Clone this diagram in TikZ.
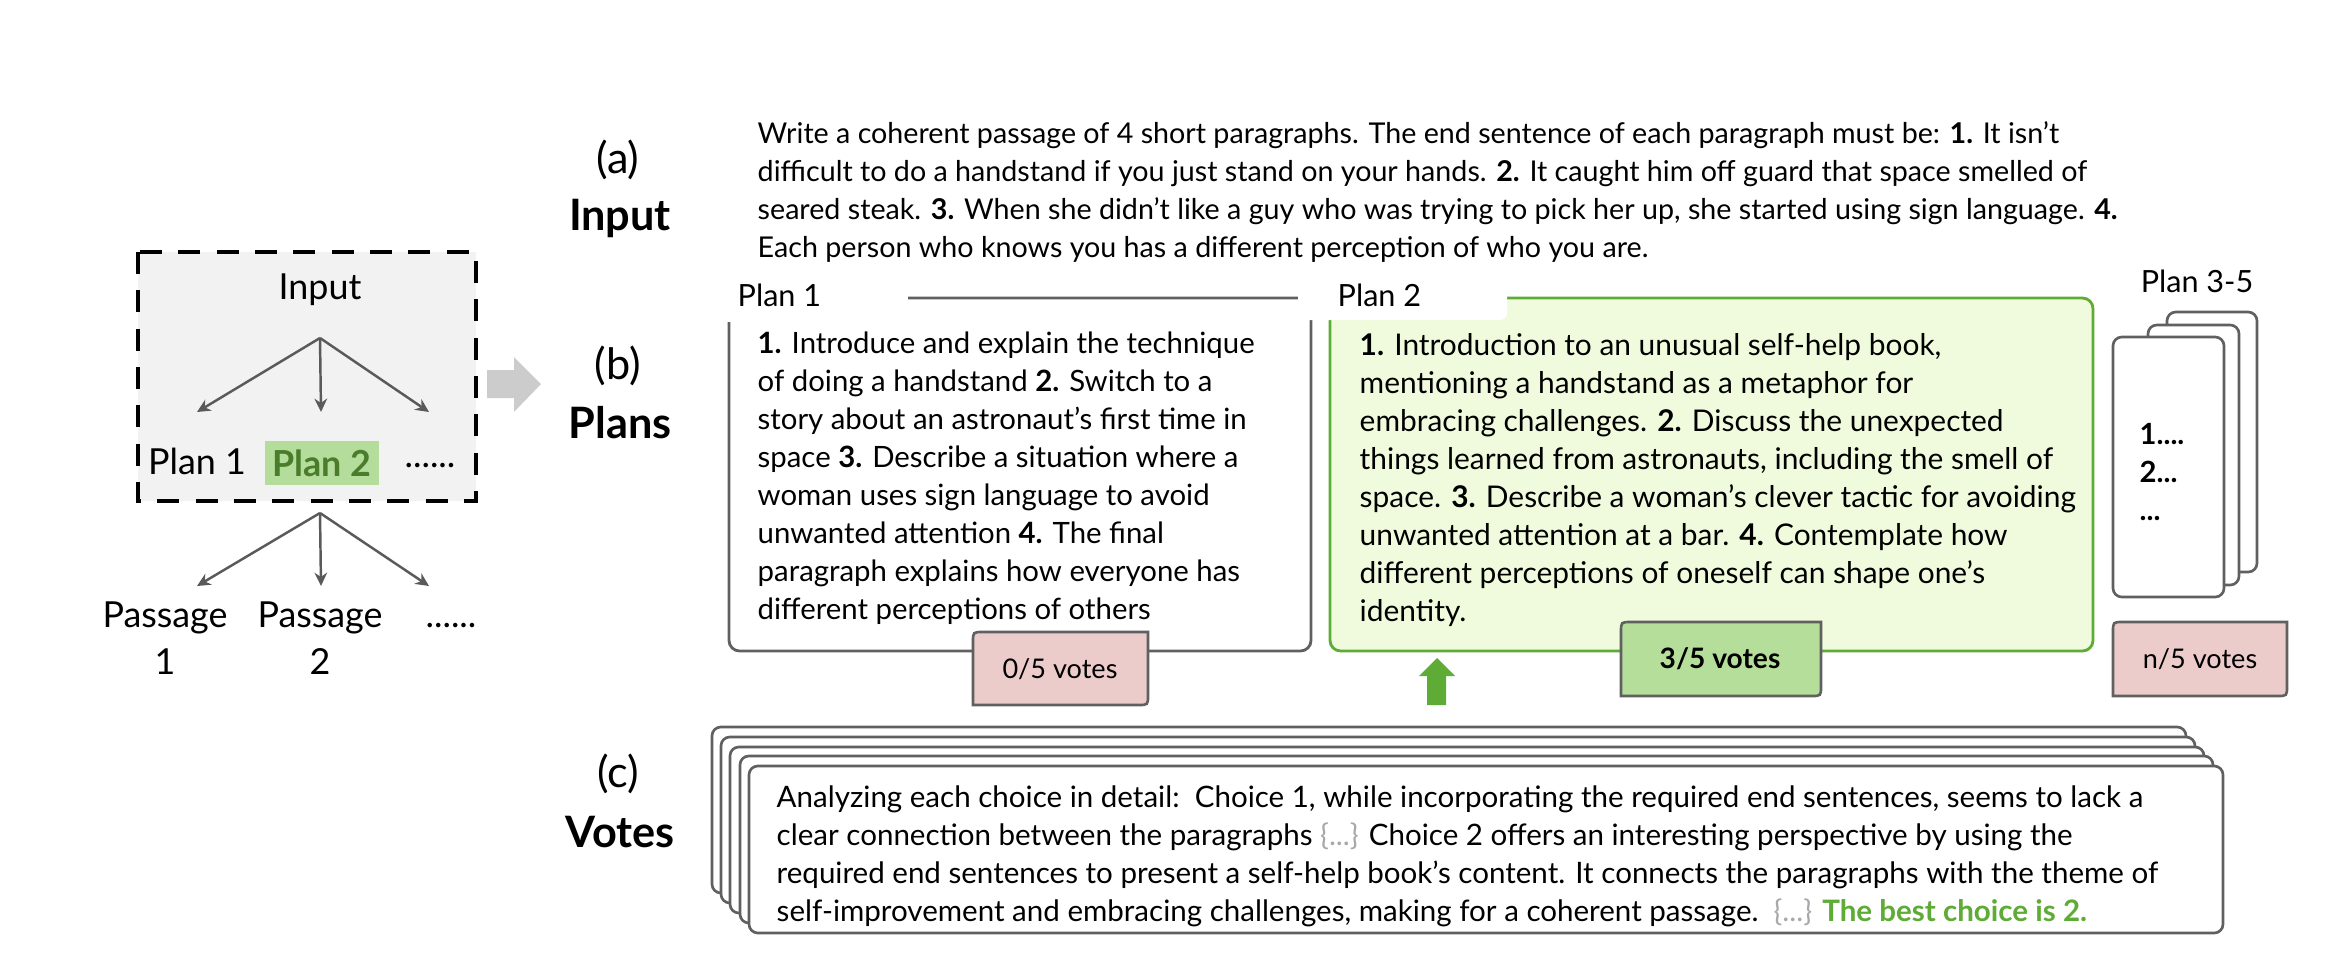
\documentclass[tikz,border=0pt]{standalone}
\usepackage{fontspec}
\setmainfont{Lato}
\usetikzlibrary{arrows.meta,positioning,calc}
\definecolor{boxgray}{HTML}{606060}
\definecolor{arrowgray}{HTML}{5A5A5A}
\definecolor{blockgray}{HTML}{CCCCCC}
\definecolor{boxbg}{HTML}{F2F2F2}
\definecolor{planfill}{HTML}{EFFBDC}
\definecolor{plangreen}{HTML}{5EAB36}
\definecolor{votepink}{HTML}{ECCCCB}
\definecolor{votegreen}{HTML}{B5DE9B}
\definecolor{hlgreen}{HTML}{B4DC9A}
\definecolor{darkgreen}{HTML}{4A7D2B}
\definecolor{dotgray}{HTML}{A8A8A8}

\begin{document}
\begin{tikzpicture}[x=0.01cm,y=-0.01cm,>={Stealth[length=3.8pt,width=3.6pt]},
 txt/.style={font=\fontsize{8}{10.8}\selectfont,align=left,inner sep=0pt,anchor=north west},
 plabel/.style={font=\fontsize{8.7}{10}\selectfont,inner sep=0pt,anchor=west},
 side/.style={font=\fontsize{12.3}{14}\selectfont,inner sep=0pt},
 sidebold/.style={font=\fontsize{12.3}{14}\selectfont\bfseries,inner sep=0pt},
 small/.style={font=\fontsize{10.2}{13.4}\selectfont,inner sep=0pt,align=center},
 planbox/.style={draw=boxgray,line width=0.8pt,rounded corners=3pt},
 page/.style={draw=boxgray,fill=white,line width=0.75pt,rounded corners=2.5pt},
 badge/.style={draw=boxgray,line width=0.75pt},
 fork/.style={->,draw=arrowgray,line width=0.7pt}]
\useasboundingbox (0,0) rectangle (2348,960);
% overview on the left
\draw[black,fill=boxbg,line width=1.1pt,dash pattern=on 6.3pt off 4.6pt] (138,252) rectangle (476,501);
\node[small] (inp) at (320,290) {Input};
\node[small] (lp1) at (197,461) {Plan 1};
\node[small,fill=hlgreen,inner xsep=2pt,minimum height=0.44cm,text=darkgreen,font=\fontsize{10.2}{13.4}\selectfont\bfseries] (lp2) at (322,463) {Plan 2};
\node[small] (ldots) at (430,466) {......};
\coordinate (f1) at (320,338);
\coordinate (f1a) at (197,412);
\coordinate (f1b) at (321,412);
\coordinate (f1c) at (429,412);
\draw[fork] (f1) -- (f1a); \draw[fork] (f1) -- (f1b); \draw[fork] (f1) -- (f1c);
\coordinate (f2) at (320,513);
\coordinate (f2a) at (197,586);
\coordinate (f2b) at (321,586);
\coordinate (f2c) at (429,586);
\draw[fork] (f2) -- (f2a); \draw[fork] (f2) -- (f2b); \draw[fork] (f2) -- (f2c);
\node[small] (ps1) at (165,638) {Passage\\1};
\node[small] (ps2) at (320,638) {Passage\\2};
\node[small] (psdots) at (451,626) {......};
\fill[blockgray] (487,370) -- (514,370) -- (514,357) -- (541,384) -- (514,412) -- (514,398) -- (487,398) -- cycle;
% row labels
\node[side] (capa) at (618,160) {(a)};
\node[sidebold] (namea) at (620,218) {Input};
\node[side] (capb) at (618,366) {(b)};
\node[sidebold] (nameb) at (620,423) {Plans};
\node[side] (capc) at (618,774) {(c)};
\node[sidebold] (namec) at (620,832) {Votes};
% input
\node[txt,font=\fontsize{8.15}{10.8}\selectfont] (intext) at (757,121) {Write a coherent passage of 4 short paragraphs. The end sentence of each paragraph must be: \textbf{1.} It isn't\\
difficult to do a handstand if you just stand on your hands. \textbf{2.} It caught him off guard that space smelled of\\
seared steak. \textbf{3.} When she didn’t like a guy who was trying to pick her up, she started using sign language. \textbf{4.}\\
Each person who knows you has a different perception of who you are.};
% plans
\draw[planbox,fill=white] (729,298) rectangle (1311,651);
\fill[white] (715,262) rectangle (908,322);
\node[plabel] (plan1) at (737,295) {Plan 1};
\node[txt,font=\fontsize{8.35}{10.8}\selectfont] (plan1text) at (757,331) {\textbf{1.} Introduce and explain the technique\\
of doing a handstand \textbf{2.} Switch to a\\
story about an astronaut's first time in\\
space \textbf{3.} Describe a situation where a\\
woman uses sign language to avoid\\
unwanted attention \textbf{4.} The final\\
paragraph explains how everyone has\\
different perceptions of others};
\draw[planbox,draw=plangreen,fill=planfill] (1330,298) rectangle (2093,651);
\fill[white,rounded corners=2pt] (1298,262) rectangle (1507,320);
\node[plabel] (plan2) at (1337,295) {Plan 2};
\node[txt,font=\fontsize{8.5}{10.8}\selectfont] (plan2text) at (1359,333) {\textbf{1.} Introduction to an unusual self-help book,\\
mentioning a handstand as a metaphor for\\
embracing challenges. \textbf{2.} Discuss the unexpected\\
things learned from astronauts, including the smell of\\
space. \textbf{3.} Describe a woman's clever tactic for avoiding\\
unwanted attention at a bar. \textbf{4.} Contemplate how\\
different perceptions of oneself can shape one's\\
identity.};
\node[plabel,anchor=center] (plan3) at (2197,281) {Plan 3-5};
\draw[page] (2167,312) rectangle (2257,572);
\draw[page] (2148,325) rectangle (2239,585);
\draw[page] (2113,337) rectangle (2224,597);
\node[txt,font=\fontsize{8.3}{10.8}\selectfont\bfseries] (plan3text) at (2139,423) {1....\\2...\\...};
% votes per plan
\filldraw[badge,fill=votepink] (973,705) -- (973,642) .. controls (973,632) .. (983,632) -- (1148,632) -- (1148,695) .. controls (1148,705) .. (1138,705) -- cycle;
\node[txt,anchor=center,font=\fontsize{7.7}{10}\selectfont] (vote1) at (1060,669) {0/5 votes};
\filldraw[badge,fill=votegreen] (1621,696) -- (1621,632) .. controls (1621,622) .. (1631,622) -- (1821,622) -- (1821,686) .. controls (1821,696) .. (1811,696) -- cycle;
\node[txt,anchor=center,font=\fontsize{8}{10}\selectfont\bfseries] (vote2) at (1720,659) {3/5 votes};
\filldraw[badge,fill=votepink] (2113,696) -- (2113,632) .. controls (2113,622) .. (2123,622) -- (2287,622) -- (2287,686) .. controls (2287,696) .. (2277,696) -- cycle;
\node[txt,anchor=center,font=\fontsize{7.7}{10}\selectfont] (vote3) at (2200,659) {n/5 votes};
\fill[plangreen] (1427,705) -- (1427,676) -- (1419,676) -- (1437,658) -- (1455,676) -- (1446,676) -- (1446,705) -- cycle;
% votes
\draw[page] (712,727) rectangle (2186,893);
\draw[page] (721,737) rectangle (2195,903);
\draw[page] (730,747) rectangle (2204,913);
\draw[page] (740,756) rectangle (2213,923);
\draw[page] (749,766) rectangle (2223,933);
\node[txt,font=\fontsize{8.4}{10.8}\selectfont] (votetext) at (776,785) {Analyzing each choice in detail:\ \ Choice 1, while incorporating the required end sentences, seems to lack a\\
clear connection between the paragraphs {\color{dotgray}\{...\}} Choice 2 offers an interesting perspective by using the\\
required end sentences to present a self-help book's content. It connects the paragraphs with the theme of\\
self-improvement and embracing challenges, making for a coherent passage.\ \ {\color{dotgray}\{...\}} {\color{plangreen}\bfseries The best choice is 2.}};
\end{tikzpicture}
\end{document}
